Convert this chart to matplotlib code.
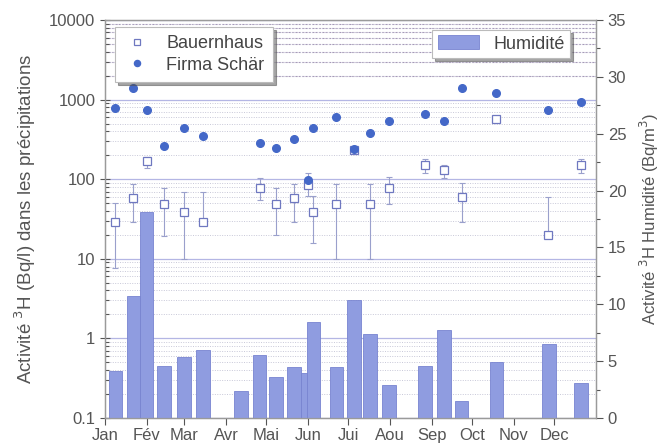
import matplotlib
matplotlib.use("Agg")
import matplotlib.pyplot as plt
from matplotlib.ticker import LogLocator, NullFormatter, FixedLocator, MultipleLocator

plt.rcParams['font.family'] = ['Liberation Sans', 'DejaVu Sans']

# ---- data (day of year) ----
month_starts = [0, 31, 59, 90, 120, 151, 181, 212, 243, 273, 304, 334]
month_labels = ['Jan', 'Fév', 'Mar', 'Avr', 'Mai', 'Jun', 'Jui', 'Aou', 'Sep', 'Oct', 'Nov', 'Dec']

hum_days = [7.8, 21.2, 30.9, 43.9, 58.7, 72.9, 101, 115, 127, 140.5, 150.7, 155,
            172, 185, 197, 211, 238, 252, 265, 291, 330, 354]
hum_vals = [4.1, 10.7, 18.1, 4.6, 5.4, 6.0, 2.4, 5.5, 3.6, 4.5, 4.0, 8.4,
            4.5, 10.4, 7.4, 2.9, 4.6, 7.7, 1.5, 4.9, 6.5, 3.1]

schaer_days = [7.8, 20.6, 31, 43.9, 59, 73, 115, 127, 140.7, 150.7, 154.9, 171.7,
               185, 197, 210.8, 237.7, 251.8, 265.7, 290.7, 329.6, 353.7]
schaer_vals = [790, 1390, 740, 264, 443, 346, 288, 247, 317, 98, 443, 600,
               238, 378, 543, 653, 538, 1390, 1210, 746, 925]

bauer_days = [7.8, 20.6, 31, 43.9, 59, 73, 115, 127, 140.7, 150.7, 154.9, 171.7,
              185, 197, 210.8, 237.7, 251.8, 265.7, 290.7, 329.6, 353.7]
bauer_vals = [29, 58.6, 168, 48.8, 39, 29, 78, 48.8, 58.6, 84.5, 39, 48.8,
              235, 48.8, 78, 150, 129, 59.5, 575, 20, 150]
bauer_lo = [7.7, 29, 139, 19.5, 10, 29, 54.8, 20, 29, 61.5, 15.7, 10,
            222, 10, 48.8, 119, 103, 29, 545, 20, 121]
bauer_hi = [50, 87, 192, 78, 68.5, 68.5, 103, 78, 87, 119, 61.5, 87,
            250, 87, 107, 178, 151, 88.6, 610, 60, 178]

# ---- figure ----
fig = plt.figure(figsize=(6.67, 4.46), dpi=100)
ax = fig.add_axes([105/667, 1-418/446, (596-105)/667, (418-20)/446])
ax2 = ax.twinx()

tick_col = '#555555'
spine_col = '#9a9a9a'

# log axis (left)
ax.set_yscale('log')
ax.set_ylim(0.1, 10000)
ax.set_xlim(0, 365)
ax.yaxis.set_minor_locator(LogLocator(base=10, subs=range(2, 10), numticks=20))
ax.yaxis.set_minor_formatter(NullFormatter())
ax.set_yticks([0.1, 1, 10, 100, 1000, 10000])
ax.set_yticklabels(['0.1', '1', '10', '100', '1000', '10000'])
ax.grid(True, which='major', axis='y', color='#b4b6e4', lw=0.9, ls='-')
ax.grid(True, which='minor', axis='y', color='#c8c8d8', lw=0.7, ls=(0, (1, 1.5)))
for k in range(2, 10):
    ax.axhline(k * 1000, color='#a898b8', lw=0.8, ls=(0, (2, 1)), zorder=0.5)

# error bars + Bauernhaus squares
yerr = [[v - l for v, l in zip(bauer_vals, bauer_lo)],
        [h - v for v, h in zip(bauer_vals, bauer_hi)]]
ax.errorbar(bauer_days, bauer_vals, yerr=yerr, fmt='none', ecolor='#9aa0cc',
            elinewidth=0.8, capsize=2.5, capthick=0.8, zorder=2)
sq, = ax.plot(bauer_days, bauer_vals, ls='none', marker='s', ms=6,
              mfc='white', mec='#6f78c0', mew=0.9, zorder=3, label='Bauernhaus')
ci, = ax.plot(schaer_days, schaer_vals, ls='none', marker='o', ms=5.5,
              mfc='#4468c8', mec='#4468c8', zorder=4, label='Firma Schär')

# bars (right)
bars = ax2.bar(hum_days, hum_vals, width=10, color='#8f9ce0', edgecolor='#7884d0',
               linewidth=0.6, label='Humidité', zorder=2)
ax2.set_ylim(0, 35)
ax2.yaxis.set_major_locator(MultipleLocator(5))
ax2.yaxis.set_minor_locator(MultipleLocator(2.5))

# x axis
ax.xaxis.set_major_locator(FixedLocator(month_starts))
ax.set_xticklabels(month_labels)

for a in (ax, ax2):
    for s in a.spines.values():
        s.set_color(spine_col)
        s.set_linewidth(0.9)
    a.tick_params(colors=tick_col, labelsize=12, which='both', width=0.8)
    a.tick_params(which='major', length=5)
    a.tick_params(which='minor', length=3)
ax.tick_params(axis='x', pad=2)
ax.tick_params(axis='y', which='minor', direction='in')
ax.tick_params(axis='y', which='major', direction='inout', length=7)

ax.set_ylabel('Activité $^3$H (Bq/l) dans les précipitations', fontsize=13.5,
              color='#555555', labelpad=8)
ax2.set_ylabel('Activité $^3$H Humidité (Bq/m$^3$)', fontsize=12,
               color='#555555', labelpad=8)

leg1 = ax.legend(handles=[sq, ci], loc='upper left', bbox_to_anchor=(0.0204, 0.982),
                 borderaxespad=0, fontsize=13, frameon=True, fancybox=False,
                 shadow=True, edgecolor='#bbbbbb', markerscale=0.8,
                 handlelength=1.5, borderpad=0.45, labelspacing=0.25,
                 handletextpad=0.9, alignment='left')
leg1.get_frame().set_linewidth(0.8)
for t in leg1.get_texts():
    t.set_ha('left')
    t.set_color('#444444')
leg2 = ax2.legend(handles=[bars], loc='upper right', bbox_to_anchor=(0.948, 0.975),
                  borderaxespad=0, fontsize=13, frameon=True, fancybox=False,
                  shadow=True, edgecolor='#bbbbbb', handlelength=2.3,
                  handleheight=0.8, borderpad=0.3, handletextpad=0.8)
leg2.get_frame().set_linewidth(0.8)
for t in leg2.get_texts():
    t.set_color('#444444')

fig.savefig('out.png', dpi=100)
